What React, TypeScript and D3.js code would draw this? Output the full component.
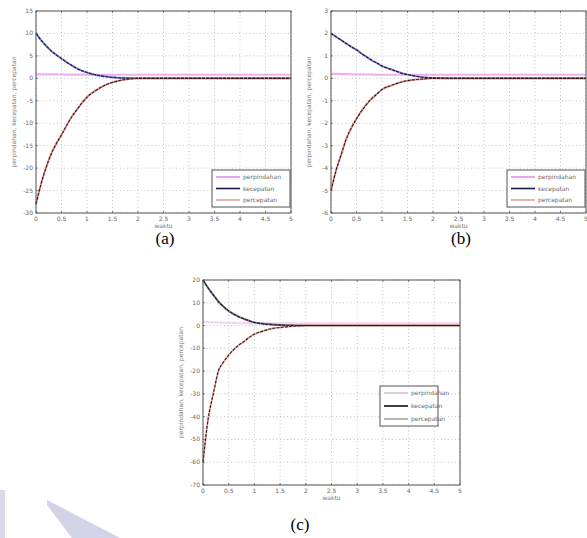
import React from "react";
import * as d3 from "d3";

const times = [0, 0.1, 0.2, 0.3, 0.4, 0.5, 0.6, 0.7, 0.8, 0.9, 1.0, 1.2, 1.4, 1.6, 1.8, 2.0, 2.5, 5];

const aPerpindahan = [0.9, 0.9, 0.88, 0.87, 0.86, 0.85, 0.84, 0.83, 0.82, 0.81, 0.8, 0.8, 0.8, 0.8, 0.8, 0.8, 0.8, 0.8];
const aKecepatan = [10, 8.5, 7.2, 6.1, 5.2, 4.4, 3.6, 2.9, 2.2, 1.7, 1.3, 0.7, 0.35, 0.15, 0.05, 0, 0, 0];
const aPercepatan = [-28, -23.5, -19.8, -16.8, -14.5, -12.6, -10.5, -8.6, -7, -5.5, -4.2, -2.5, -1.3, -0.6, -0.2, 0, 0, 0];

const bPerpindahan = [0.2, 0.2, 0.19, 0.19, 0.18, 0.18, 0.17, 0.17, 0.17, 0.16, 0.16, 0.16, 0.16, 0.16, 0.16, 0.16, 0.16, 0.16];
const bKecepatan = [2, 1.85, 1.7, 1.55, 1.4, 1.27, 1.1, 0.95, 0.8, 0.68, 0.55, 0.38, 0.22, 0.12, 0.05, 0.02, 0, 0];
const bPercepatan = [-5, -4.1, -3.4, -2.7, -2.2, -1.8, -1.45, -1.15, -0.9, -0.7, -0.5, -0.3, -0.15, -0.07, -0.03, 0, 0, 0];

const cPerpindahan = [1.5, 1.45, 1.4, 1.35, 1.3, 1.25, 1.2, 1.15, 1.1, 1.05, 1.0, 1.0, 1.0, 1.0, 1.0, 1.0, 1.0, 1.0];
const cKecepatan = [20, 16.5, 13.5, 10.5, 8.3, 6.4, 5.0, 3.8, 2.9, 2.1, 1.4, 0.7, 0.35, 0.15, 0.05, 0, 0, 0];
const cPercepatan = [-60, -41, -30, -20, -16, -13, -10.5, -8.5, -7.0, -5.2, -3.8, -2.2, -1.1, -0.6, -0.2, 0, 0, 0];

const xTicks = [0, 0.5, 1, 1.5, 2, 2.5, 3, 3.5, 4, 4.5, 5];
const xTickLabels = ["0", "0.5", "1", "1.5", "2", "2.5", "3", "3.5", "4", "4.5", "5"];
const aYTicks = [15, 10, 5, 0, -5, -10, -15, -20, -25, -30];
const bYTicks = [3, 2, 1, 0, -1, -2, -3, -4, -5, -6];
const cYTicks = [20, 10, 0, -10, -20, -30, -40, -50, -60, -70];

const legendLabels = ["perpindahan", "kecepatan", "percepatan"];
const xLabel = "waktu";
const yLabel = "perpindahan, kecepatan, percepatan";
const captions = ["(a)", "(b)", "(c)"];

type PanelProps = {
  left: number; right: number; top: number; bottom: number;
  yTicks: number[];
  pos: number[]; vel: number[]; acc: number[];
  legend: { x: number; y: number; w: number; h: number };
  gray?: boolean;
  caption: string; capX: number; capY: number;
};

function Panel(p: PanelProps) {
  const x = d3.scaleLinear().domain([0, 5]).range([p.left, p.right]);
  const y = d3.scaleLinear().domain([d3.min(p.yTicks)!, d3.max(p.yTicks)!]).range([p.bottom, p.top]);
  const line = (vals: number[]) =>
    d3.line<number>().x((_, i) => x(times[i])).y((v) => y(v)).curve(d3.curveMonotoneX)(vals) || "";
  const posCol = p.gray ? "#f0b8ec" : "#e878e8";
  const velCol = p.gray ? "#333" : "#5050c8";
  const accCol = p.gray ? "#e8a0a0" : "#e07878";
  const legCols = p.gray ? ["#c8b8c8", "#111", "#999"] : ["#e080e0", "#1a1a50", "#e09090"];
  const fs = 6;
  return (
    <g>
      <rect x={p.left} y={p.top} width={p.right - p.left} height={p.bottom - p.top} fill="#fff" />
      {xTicks.map((t) => (
        <line key={"gx" + t} x1={x(t)} x2={x(t)} y1={p.top} y2={p.bottom} stroke="#aaa" strokeWidth={0.7} strokeDasharray="1,2.5" />
      ))}
      {p.yTicks.map((t) => (
        <line key={"gy" + t} x1={p.left} x2={p.right} y1={y(t)} y2={y(t)} stroke="#aaa" strokeWidth={0.7} strokeDasharray="1,2.5" />
      ))}
      <path d={line(p.pos)} fill="none" stroke={posCol} strokeWidth={2.2} opacity={0.6} />
      <path d={line(p.vel)} fill="none" stroke={velCol} strokeWidth={2} opacity={0.7} />
      <path d={line(p.acc)} fill="none" stroke={accCol} strokeWidth={2} opacity={0.8} />
      <path d={line(p.vel)} fill="none" stroke="#1a1a3a" strokeWidth={1.1} strokeDasharray="3,1.2" />
      <path d={line(p.acc)} fill="none" stroke="#3a1a1a" strokeWidth={1.1} strokeDasharray="3,1.2" />
      <rect x={p.left} y={p.top} width={p.right - p.left} height={p.bottom - p.top} fill="none" stroke="#555" strokeWidth={1} />
      {xTicks.map((t, i) => (
        <g key={"tx" + t}>
          <line x1={x(t)} x2={x(t)} y1={p.bottom} y2={p.bottom - 2} stroke="#555" strokeWidth={0.7} />
          <line x1={x(t)} x2={x(t)} y1={p.top} y2={p.top + 2} stroke="#555" strokeWidth={0.7} />
          <text x={x(t)} y={p.bottom + 8} fontSize={fs} fill="#666" textAnchor="middle" fontFamily="DejaVu Sans">{xTickLabels[i]}</text>
        </g>
      ))}
      {p.yTicks.map((t) => (
        <g key={"ty" + t}>
          <line x1={p.left} x2={p.left + 2} y1={y(t)} y2={y(t)} stroke="#555" strokeWidth={0.7} />
          <text x={p.left - 3} y={y(t) + 2} fontSize={fs} fill="#666" textAnchor="end" fontFamily="DejaVu Sans">{t}</text>
        </g>
      ))}
      <text x={(p.left + p.right) / 2} y={p.bottom + 15} fontSize={fs} fill="#777" textAnchor="middle" fontFamily="DejaVu Sans">{xLabel}</text>
      <text transform={`translate(${p.left - 20},${(p.top + p.bottom) / 2}) rotate(-90)`} fontSize={fs} fill="#777" textAnchor="middle" fontFamily="DejaVu Sans">{yLabel}</text>
      <rect x={p.legend.x} y={p.legend.y} width={p.legend.w} height={p.legend.h} fill="#fff" stroke="#555" strokeWidth={1} />
      {legendLabels.map((l, i) => {
        const ly = p.legend.y + 7 + i * (p.legend.h - 14) / 2;
        return (
          <g key={l}>
            <line x1={p.legend.x + 4} x2={p.legend.x + 28} y1={ly} y2={ly} stroke={legCols[i]} strokeWidth={i === 1 ? 1.6 : 1.4} />
            <text x={p.legend.x + 31} y={ly + 2} fontSize={fs} fill="#666" fontFamily="DejaVu Sans">{l}</text>
          </g>
        );
      })}
      <text x={p.capX} y={p.capY} fontSize={17} fill="#000" textAnchor="middle" fontFamily="Liberation Serif">{p.caption}</text>
    </g>
  );
}

export default function App() {
  return (
    <svg width={587} height={538} style={{ position: "absolute", left: 0, top: 0, background: "#fff" }}>
      <rect width={587} height={538} fill="#fff" />
      <polygon points="47,500 120,538 72,538 47,505" fill="#c8c8e2" opacity={0.8} />
      <polygon points="0,490 5,490 5,538 0,538" fill="#d0d0e6" opacity={0.8} />
      <Panel left={36} right={291} top={11} bottom={213} yTicks={aYTicks}
        pos={aPerpindahan} vel={aKecepatan} acc={aPercepatan}
        legend={{ x: 212, y: 170, w: 78, h: 37 }} caption={captions[0]} capX={165} capY={244} />
      <Panel left={331} right={586} top={11} bottom={213} yTicks={bYTicks}
        pos={bPerpindahan} vel={bKecepatan} acc={bPercepatan}
        legend={{ x: 507, y: 170, w: 78, h: 37 }} caption={captions[1]} capX={461} capY={244} />
      <Panel left={203} right={460} top={280} bottom={485} yTicks={cYTicks}
        pos={cPerpindahan} vel={cKecepatan} acc={cPercepatan} gray
        legend={{ x: 380, y: 386, w: 58, h: 40 }} caption={captions[2]} capX={300} capY={530} />
    </svg>
  );
}
